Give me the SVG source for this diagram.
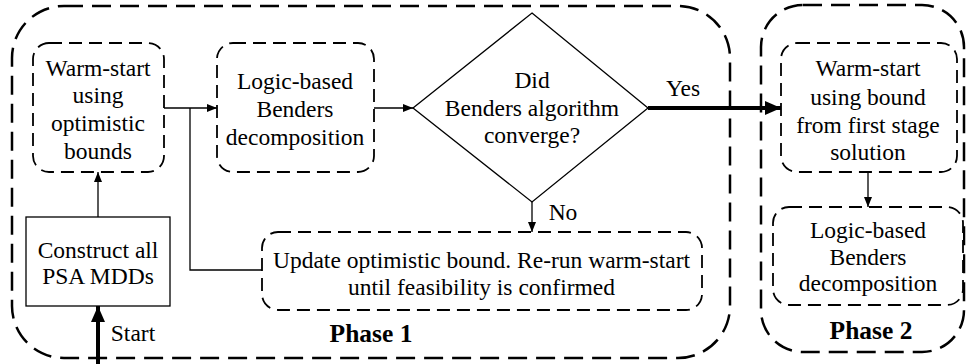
<svg xmlns="http://www.w3.org/2000/svg" width="967" height="364" viewBox="0 0 967 364" font-family="'Liberation Serif', 'DejaVu Serif', serif">
<defs>
<style>
text{font-family:'Liberation Serif','DejaVu Serif',serif;font-size:23.5px;fill:#000;text-anchor:middle}
.b{font-weight:bold;font-size:25.5px}
.outer{fill:none;stroke:#000;stroke-width:2.5;stroke-dasharray:19 9}
.inner{fill:#fff;stroke:#000;stroke-width:1.8;stroke-dasharray:13 7}
.solid{fill:#fff;stroke:#000;stroke-width:1.3}
.c{fill:none;stroke:#000;stroke-width:1.3}
.t{fill:none;stroke:#000;stroke-width:4}
</style>
<marker id="a" markerWidth="10" markerHeight="8" refX="10" refY="4" orient="auto" markerUnits="userSpaceOnUse"><path d="M0,0 L10,4 L0,8 Z" fill="#000"/></marker>
<marker id="at" markerWidth="16" markerHeight="14" refX="16" refY="7" orient="auto" markerUnits="userSpaceOnUse"><path d="M0,0 L16,7 L0,14 Z" fill="#000"/></marker>
</defs>
<g id="phase1"><rect class="outer" x="12" y="6" width="718" height="352" rx="52"/><text class="b" x="371" y="342">Phase 1</text></g>
<g id="phase2"><rect class="outer" x="761" y="5" width="203" height="347" rx="42"/><text class="b" x="871" y="339">Phase 2</text></g>
<g id="connectors">
<path class="c" d="M164,108 H217" marker-end="url(#a)"/>
<path class="c" d="M374,108 H413" marker-end="url(#a)"/>
<path class="c" d="M262,270 H190 V108"/>
<path class="c" d="M532,202 V232" marker-end="url(#a)"/>
<path class="c" d="M98,217 V172" marker-end="url(#a)"/>
<path class="c" d="M868,172 V207" marker-end="url(#a)"/>
<path class="t" d="M648,108 H781" marker-end="url(#at)"/>
<path class="t" d="M98,364 V306" marker-end="url(#at)"/>
<text x="683" y="96">Yes</text>
<text x="563" y="220">No</text>
<text x="133" y="341">Start</text>
</g>
<g id="warm1"><rect class="inner" x="33" y="43" width="131" height="129" rx="16"/>
<text x="98" y="76">Warm-start</text><text x="98" y="103">using</text><text x="98" y="131">optimistic</text><text x="98" y="159">bounds</text></g>
<g id="lbbd1"><rect class="inner" x="217" y="43" width="157" height="129" rx="16"/>
<text x="295" y="89">Logic-based</text><text x="295" y="117">Benders</text><text x="295" y="145">decomposition</text></g>
<g id="diamond"><path class="solid" d="M532,13 L648,108 L532,202 L413,108 Z"/>
<text x="532" y="88">Did</text><text x="532" y="116">Benders algorithm</text><text x="532" y="143">converge?</text></g>
<g id="update"><rect class="inner" x="262" y="232" width="440" height="78" rx="16"/>
<text x="481.5" y="268">Update optimistic bound. Re-run warm-start</text><text x="481.5" y="295">until feasibility is confirmed</text></g>
<g id="construct"><rect class="solid" x="26" y="217" width="144" height="89"/>
<text x="98" y="258">Construct all</text><text x="98" y="284">PSA MDDs</text></g>
<g id="warm2"><rect class="inner" x="781" y="43" width="176" height="129" rx="16"/>
<text x="868" y="76">Warm-start</text><text x="868" y="105">using bound</text><text x="868" y="133">from first stage</text><text x="868" y="160">solution</text></g>
<g id="lbbd2"><rect class="inner" x="773" y="207" width="190" height="98" rx="16"/>
<text x="868" y="238">Logic-based</text><text x="868" y="265">Benders</text><text x="868" y="291">decomposition</text></g>
</svg>
